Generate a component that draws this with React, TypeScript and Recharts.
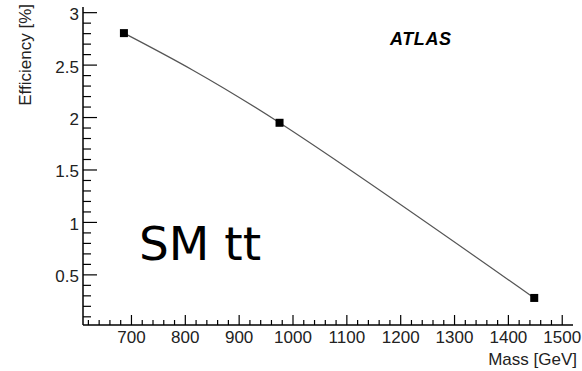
import { LineChart, Line, XAxis, YAxis } from "recharts";

// signal efficiency vs mass
const masses = [686, 975, 1448];
const efficiencies = [2.805, 1.95, 0.28];

// axis ticks
const xMajorTicks = [700, 800, 900, 1000, 1100, 1200, 1300, 1400, 1500];
const yMajorTicks = [0.5, 1, 1.5, 2, 2.5, 3];

const xMinorTicks: number[] = [];
for (let v = 620; v <= 1500; v += 20) xMinorTicks.push(v);
const yMinorTicks: number[] = [];
for (let k = 1; k <= 30; k++) yMinorTicks.push(Math.round(k * 10) / 100);

const xDomain: [number, number] = [610, 1520];
const yDomain: [number, number] = [0.022, 3.054];

const data = masses.map((m, i) => ({ mass: m, eff: efficiencies[i] }));

const W = 582;
const H = 371;
const FONT = "'Liberation Sans', Arial, sans-serif";
const LABEL = "#222";

const isMajorX = (v: number) => xMajorTicks.includes(v);
const isMajorY = (v: number) => yMajorTicks.some((t) => Math.abs(t - v) < 1e-6);

const BottomTick = (props: any) => {
    const { x, y, payload } = props;
    const major = isMajorX(payload.value);
    return (
        <g>
            <line x1={x} x2={x} y1={y} y2={y - (major ? 10 : 5)} stroke="#000" strokeWidth={1.2} />
            {major && (
                <text x={x} y={y + 18} textAnchor="middle" fontSize={17} fontFamily={FONT} fill={LABEL}>
                    {payload.value}
                </text>
            )}
        </g>
    );
};

const TopTick = (props: any) => {
    const { x, y, payload } = props;
    const major = isMajorX(payload.value);
    return <line x1={x} x2={x} y1={y} y2={y + (major ? 9 : 5)} stroke="#000" strokeWidth={1.2} />;
};

const LeftTick = (props: any) => {
    const { x, y, payload } = props;
    const major = isMajorY(payload.value);
    return (
        <g>
            <line x1={x} x2={x + (major ? 14 : 8)} y1={y} y2={y} stroke="#000" strokeWidth={1.2} />
            {major && (
                <text x={x - 4} y={y + 7.5} textAnchor="end" fontSize={17} fontFamily={FONT} fill={LABEL}>
                    {payload.value}
                </text>
            )}
        </g>
    );
};

const RightTick = (props: any) => {
    const { x, y, payload } = props;
    const major = isMajorY(payload.value);
    return <line x1={x} x2={x - (major ? 8 : 5)} y1={y} y2={y} stroke="#000" strokeWidth={1.2} />;
};

const SquareDot = (props: any) => {
    const { cx, cy, index } = props;
    if (cx == null || cy == null) return null;
    return <rect key={index} x={cx - 4} y={cy - 4} width={8} height={8} fill="#000" />;
};

export default function App() {
    const axisLine = { stroke: "#000", strokeWidth: 1.5 };
    return (
        <div style={{ position: "absolute", left: 0, top: 0, width: W, height: H, background: "#fff" }}>
            <LineChart width={W} height={H} data={data} margin={{ top: 7, right: 9, bottom: 0, left: 0 }}>
                <XAxis
                    dataKey="mass"
                    type="number"
                    domain={xDomain}
                    allowDataOverflow
                    ticks={xMinorTicks}
                    interval={0}
                    tickSize={0}
                    tickMargin={0}
                    tickLine={false}
                    axisLine={axisLine}
                    height={46}
                    tick={<BottomTick />}
                />
                <XAxis
                    xAxisId="top"
                    orientation="top"
                    dataKey="mass"
                    type="number"
                    domain={xDomain}
                    allowDataOverflow
                    ticks={xMinorTicks}
                    interval={0}
                    tickSize={0}
                    tickMargin={0}
                    tickLine={false}
                    axisLine={axisLine}
                    height={0}
                    tick={<TopTick />}
                />
                <YAxis
                    type="number"
                    domain={yDomain}
                    allowDataOverflow
                    ticks={yMinorTicks}
                    interval={0}
                    tickSize={0}
                    tickMargin={0}
                    tickLine={false}
                    axisLine={axisLine}
                    width={83}
                    tick={<LeftTick />}
                />
                <YAxis
                    yAxisId="right"
                    orientation="right"
                    type="number"
                    domain={yDomain}
                    allowDataOverflow
                    ticks={yMinorTicks}
                    interval={0}
                    tickSize={0}
                    tickMargin={0}
                    tickLine={false}
                    axisLine={axisLine}
                    width={0}
                    tick={<RightTick />}
                />
                <Line
                    type="natural"
                    dataKey="eff"
                    stroke="#555"
                    strokeWidth={1.2}
                    dot={<SquareDot />}
                    activeDot={false}
                    isAnimationActive={false}
                />
            </LineChart>
            <svg width={W} height={H} style={{ position: "absolute", left: 0, top: 0, pointerEvents: "none" }}>
                <text
                    x={31}
                    y={4}
                    transform="rotate(-90, 31, 4)"
                    textAnchor="end"
                    fontSize={17}
                    fontFamily={FONT}
                    fill={LABEL}
                >
                    Efficiency [%]
                </text>
                <text x={577} y={365} textAnchor="end" fontSize={17} fontFamily={FONT} fill={LABEL}>
                    Mass [GeV]
                </text>
                <text
                    x={390}
                    y={45}
                    fontSize={18}
                    letterSpacing={0.6}
                    fontWeight="bold"
                    fontStyle="italic"
                    fontFamily={FONT}
                    fill="#000"
                >
                    ATLAS
                </text>
                <text x={139} y={260} fontSize={47} fontFamily="'DejaVu Sans', sans-serif" fill="#000">
                    SM tt
                </text>
            </svg>
        </div>
    );
}
